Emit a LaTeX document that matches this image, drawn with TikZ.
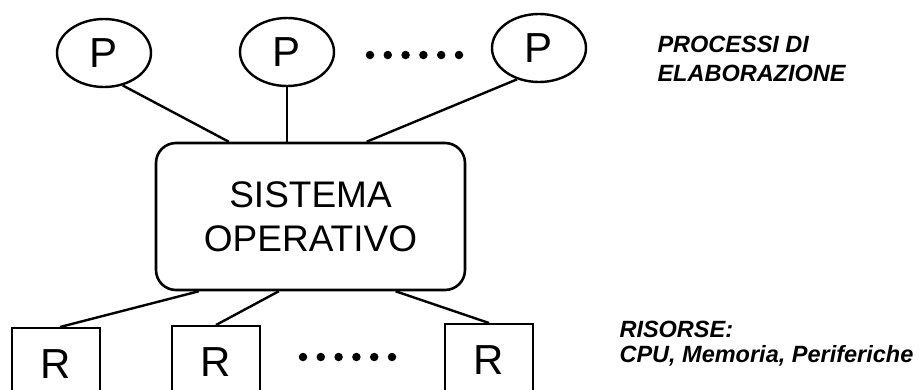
\documentclass[tikz,border=0pt]{standalone}
\usepackage{fontspec}
\setmainfont{Liberation Sans}
\usetikzlibrary{shapes.geometric,calc}

\tikzset{
  link/.style={line width=2.4pt},
  proc/.style={ellipse, draw, line width=2.4pt, inner sep=0pt,
    minimum width=94pt, minimum height=68pt,
    font=\fontsize{42}{42}\selectfont},
  res/.style={rectangle, draw, line width=2.4pt, inner sep=0pt,
    minimum width=88pt, minimum height=72pt, anchor=north,
    font=\fontsize{42}{42}\selectfont},
  osbox/.style={rectangle, draw, line width=2.6pt, rounded corners=20pt,
    minimum width=309pt, minimum height=147pt, align=center,
    font=\fontsize{37}{44}\selectfont},
  note/.style={anchor=north west, align=left,
    font=\bfseries\itshape\fontsize{23.5}{29}\selectfont},
  dot/.style={circle, fill, inner sep=0pt, minimum size=8.5pt}
}

\begin{document}
\begin{tikzpicture}[x=1pt, y=-1pt]
  \useasboundingbox (0,0) rectangle (922,389);
  \clip (0,0) rectangle (922,389);

  % processes
  \node[proc] (p1) at (104,53) {P};
  \node[proc] (p2) at (287,52) {P};
  \node[proc] (p3) at (539,48) {P};
  \foreach \k in {0,...,5}
    \node[dot] (td\k) at (370+17.8*\k,55) {};

  % operating system
  \node[osbox] (os) at (310.5,216.5) {SISTEMA\\OPERATIVO};

  % resources (boxes run past the lower edge)
  \node[res] (r1) at (56,327) {R};
  \node[res] (r2) at (216,325) {R};
  \node[res] (r3) at (489,323) {R};
  \foreach \k in {0,...,5}
    \node[dot] (bd\k) at (303+17.8*\k,357) {};

  % connectors
  \draw[link] (p1.-60) -- ($(os.north west)+(74,0)$);
  \draw[link] (p2.south) -- (p2.south |- os.north);
  \draw[link] (p3.235) -- ($(os.north west)+(212,0)$);
  \draw[link] ($(os.south west)+(44,0)$) -- ($(r1.north)+(4,0)$);
  \draw[link] ($(os.south west)+(124,0)$) -- (r2.north);
  \draw[link] ($(os.south west)+(241,0)$) -- (r3.north);

  % captions
  \node[note] (t1) at (654,33) {PROCESSI DI\\ELABORAZIONE};
  \node[note, font=\bfseries\itshape\fontsize{23.5}{25}\selectfont]
    (t2) at (616,318) {RISORSE:\\CPU, Memoria, Periferiche};
\end{tikzpicture}
\end{document}
